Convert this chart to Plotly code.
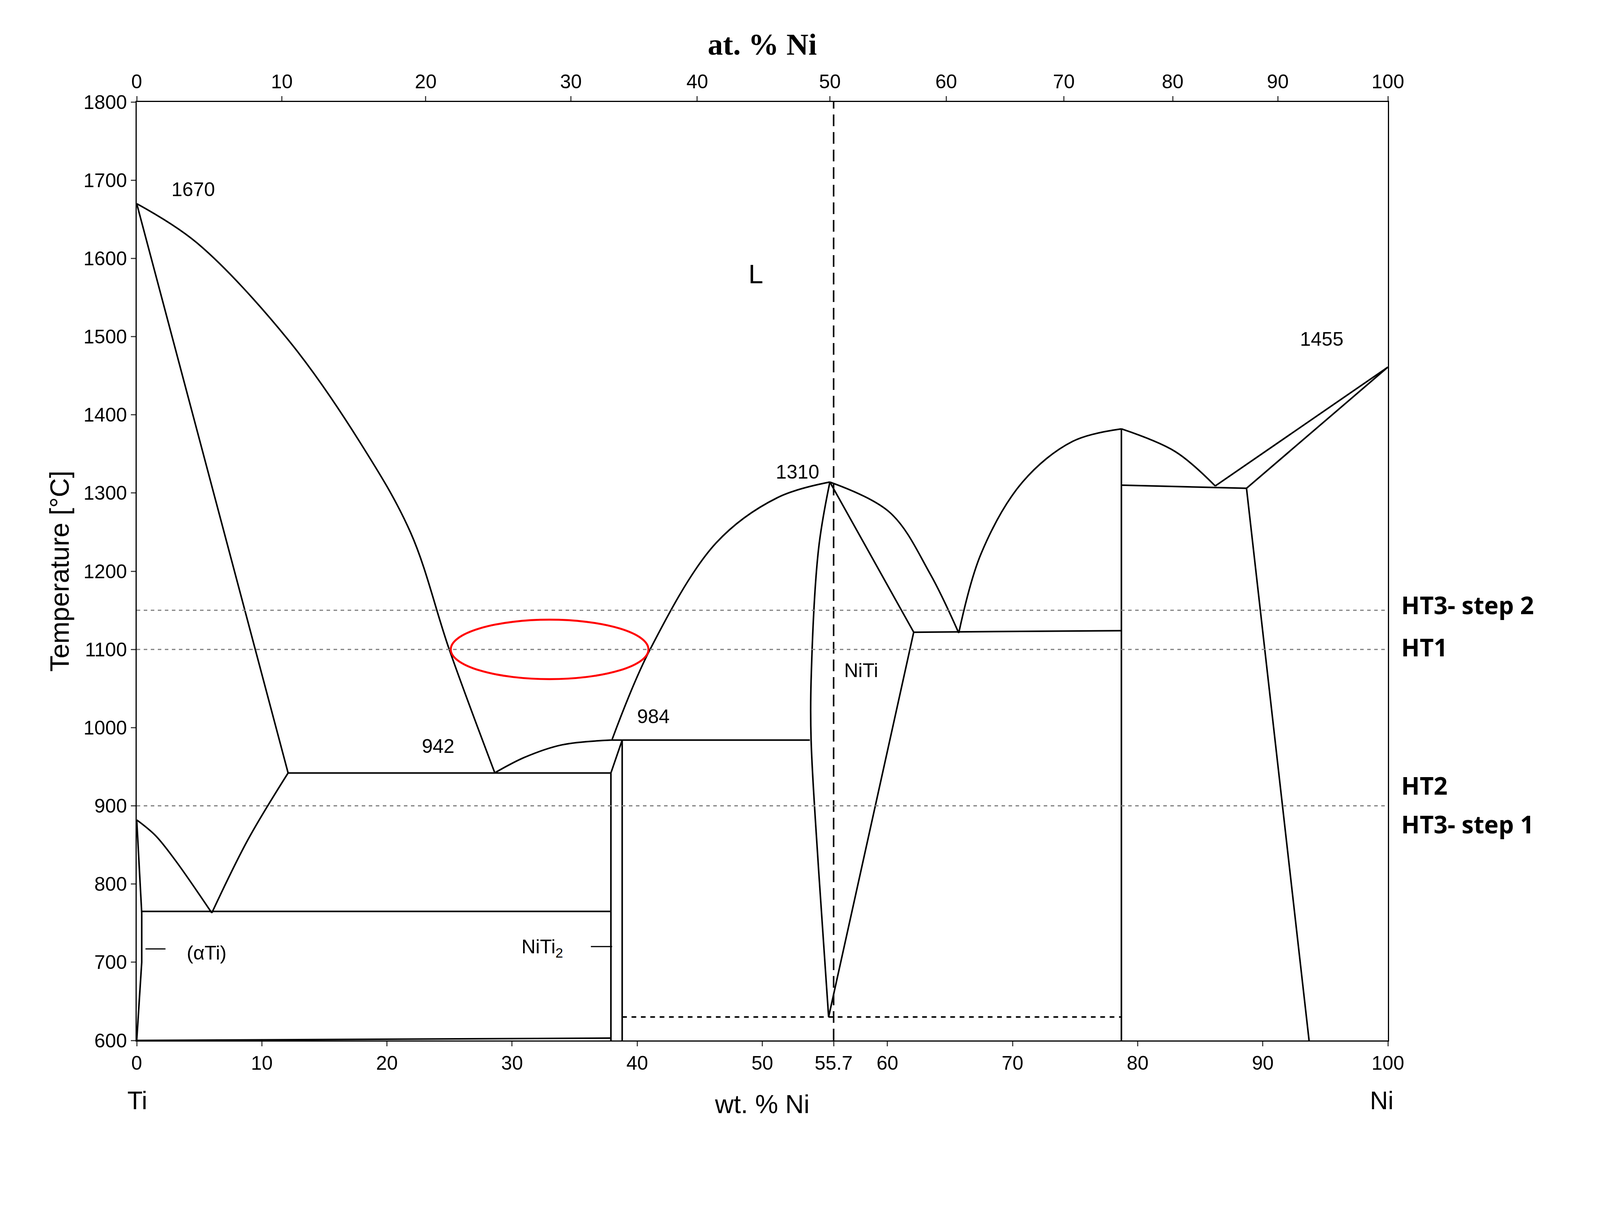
import plotly.graph_objects as go

# bottom axis: wt.% Ni, top axis: at.% Ni (positions in wt.%)
wt_ticks = [0, 10, 20, 30, 40, 50, 55.7, 60, 70, 80, 90, 100]
at_labels = [0, 10, 20, 30, 40, 50, 60, 70, 80, 90, 100]
at_pos_wt = [0, 11.6, 23.1, 34.7, 44.8, 55.4, 64.7, 74.1, 82.8, 91.2, 100]
temp_ticks = list(range(600, 1801, 100))

# phase boundary lines (wt.% Ni, T in C)
lines = {
    "liq_left_x": [0, 4.8, 12.1, 17.8, 21.9, 25.0, 28.6],
    "liq_left_y": [1670, 1620, 1496, 1366, 1249, 1099, 943],
    "beta_x": [0, 12.1], "beta_y": [1670, 942],
    "beta2_x": [12.1, 8.9, 6.0], "beta2_y": [942, 857, 763],
    "alpha_curve_x": [0, 1.5, 3.1, 6.0], "alpha_curve_y": [882, 862, 830, 763],
    "alpha_x": [0, 0.4, 0.4, 0.0], "alpha_y": [882, 763, 700, 600],
    "h942_x": [12.1, 37.9], "h942_y": [942, 942],
    "h765_x": [0.4, 37.9], "h765_y": [765, 765],
    "bottom_x": [0, 37.9], "bottom_y": [600, 603],
    "niti2a_x": [37.9, 37.9], "niti2a_y": [942, 600],
    "niti2b_x": [38.8, 38.8], "niti2b_y": [984, 600],
    "niti2c_x": [37.9, 38.8], "niti2c_y": [942, 984],
    "eut_curve_x": [28.6, 31.0, 34.0, 37.9], "eut_curve_y": [942, 962, 978, 984],
    "liq_mid_x": [38.0, 41.0, 46.3, 51.2, 55.4], "liq_mid_y": [985, 1099, 1236, 1294, 1314],
    "h984_x": [37.9, 53.8], "h984_y": [984, 984],
    "niti_left_x": [55.4, 54.5, 53.9, 53.9, 54.5, 55.3], "niti_left_y": [1314, 1229, 1060, 984, 818, 630],
    "niti_right_x": [55.4, 62.1, 55.3], "niti_right_y": [1314, 1122, 630],
    "liq_r1_x": [55.4, 60.2, 63.4, 65.7], "liq_r1_y": [1314, 1275, 1197, 1121],
    "h1118_x": [62.1, 78.7], "h1118_y": [1122, 1124],
    "liq_r2_x": [65.7, 67.5, 70.8, 74.8, 78.7], "liq_r2_y": [1121, 1223, 1314, 1366, 1382],
    "v787_x": [78.7, 78.7], "v787_y": [1382, 600],
    "liq_r3_x": [78.7, 83.0, 86.2], "liq_r3_y": [1382, 1353, 1309],
    "h1310_x": [78.7, 88.7], "h1310_y": [1310, 1306],
    "liq_ni_x": [86.2, 100], "liq_ni_y": [1309, 1461],
    "sol_ni_x": [88.7, 100], "sol_ni_y": [1306, 1461],
    "solvus_ni_x": [88.7, 93.7], "solvus_ni_y": [1306, 600],
}
segs = ["liq_left", "beta", "beta2", "alpha_curve", "alpha", "h942", "h765", "bottom",
        "niti2a", "niti2b", "niti2c", "eut_curve", "liq_mid", "h984", "niti_left",
        "niti_right", "liq_r1", "h1118", "liq_r2", "v787", "liq_r3", "h1310",
        "liq_ni", "sol_ni", "solvus_ni"]
smooth = {"liq_left", "beta2", "alpha_curve", "eut_curve", "liq_mid", "niti_left", "liq_r1", "liq_r2", "liq_r3"}

ht_temps = [1150, 1100, 900]

fig = go.Figure()
for s in segs:
    fig.add_trace(go.Scatter(x=lines[s + "_x"], y=lines[s + "_y"], mode="lines",
                             line=dict(color="black", width=4, shape="spline" if s in smooth else "linear"),
                             showlegend=False, hoverinfo="skip"))
# dotted 630 line
fig.add_trace(go.Scatter(x=[38.8, 78.7], y=[630, 630], mode="lines",
                         line=dict(color="black", width=4, dash="dash"), showlegend=False))
# 55.7 dashed vertical
fig.add_trace(go.Scatter(x=[55.7, 55.7], y=[600, 1800], mode="lines",
                         line=dict(color="black", width=4, dash="30px,15px"), showlegend=False))
for t in ht_temps:
    fig.add_trace(go.Scatter(x=[0, 100], y=[t, t], mode="lines",
                             line=dict(color="grey", width=3, dash="dash"), showlegend=False))
# top axis dummy
fig.add_trace(go.Scatter(x=[0], y=[600], xaxis="x2", mode="markers", marker=dict(opacity=0), showlegend=False))

fig.add_shape(type="circle", x0=25.1, x1=40.9, y0=1062, y1=1138, line=dict(color="red", width=5))

font = dict(family="Liberation Sans", size=50, color="black")
labels = [(4.5, 1688, "1670"), (49.5, 1580, "L"), (94.7, 1497, "1455"), (52.8, 1327, "1310"),
          (24.1, 976, "942"), (41.3, 1014, "984"), (57.9, 1073, "NiTi"),
          (5.6, 712, "(αTi)"), (32.4, 718, "NiTi<sub>2</sub>")]
for x, y, t in labels:
    fig.add_annotation(x=x, y=y, text=t, showarrow=False, font=dict(font, size=68 if t == "L" else 50))
fig.add_shape(type="line", x0=0.7, x1=2.3, y0=717, y1=717, line=dict(color="black", width=3))
fig.add_shape(type="line", x0=36.3, x1=38.0, y0=720, y1=720, line=dict(color="black", width=3))

bold = dict(family="Open Sans", size=62, color="black", weight="bold")
for y, t in [(1157, "HT3- step 2"), (1103, "HT1"), (926, "HT2"), (877, "HT3- step 1")]:
    fig.add_annotation(x=1.01, xref="paper", y=y, text="<b>%s</b>" % t, showarrow=False,
                       xanchor="left", font=bold)
fig.add_annotation(x=-0.008, xref="paper", y=-0.08, yref="paper", text="Ti", showarrow=False,
                   font=dict(font, size=64))
fig.add_annotation(x=1.005, xref="paper", y=-0.08, yref="paper", text="Ni", showarrow=False,
                   font=dict(font, size=64))

fig.update_layout(
    width=4090, height=2915, plot_bgcolor="white", paper_bgcolor="white",
    margin=dict(l=342, r=545, t=253, b=260),
    xaxis=dict(range=[0, 100], tickvals=wt_ticks, ticktext=[str(v) for v in wt_ticks],
               showgrid=False, zeroline=False, showline=True, linecolor="black", linewidth=3,
               ticks="outside", ticklen=12, tickwidth=3, tickfont=font,
               title=dict(text="wt. % Ni", font=dict(font, size=66), standoff=55)),
    xaxis2=dict(range=[0, 100], overlaying="x", side="top", tickvals=at_pos_wt,
                ticktext=[str(v) for v in at_labels], showgrid=False, zeroline=False,
                showline=True, linecolor="black", linewidth=3, ticks="outside", ticklen=12,
                tickwidth=3, tickfont=font,
                title=dict(text="<b>at. % Ni</b>", font=dict(family="Liberation Serif", size=78, color="black"))),
    yaxis=dict(range=[600, 1800], tickvals=temp_ticks, showgrid=False, zeroline=False,
               showline=True, mirror=True, linecolor="black", linewidth=3, ticks="outside",
               ticklen=12, tickwidth=3, tickfont=font,
               title=dict(text="Temperature [°C]", font=dict(font, size=68))),
)

fig.write_html("out.html")
